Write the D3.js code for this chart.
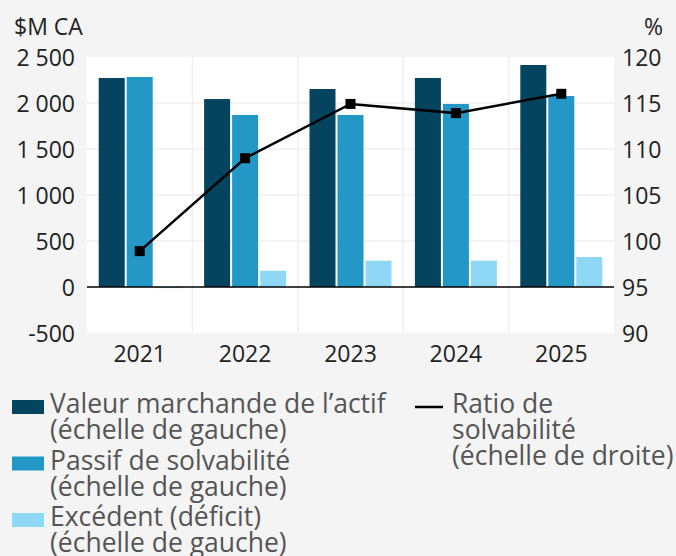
<!DOCTYPE html>
<html>
<head>
<meta charset="utf-8">
<script src="https://cdn.jsdelivr.net/npm/d3@7"></script>
<style>
  body { margin: 0; background: #f4f4f4; }
  svg { display: block; font-family: "Open Sans", sans-serif; }
</style>
</head>
<body>
<svg id="chart" width="676" height="556"></svg>
<script>
// data
const years = ["2021", "2022", "2023", "2024", "2025"];
const actif = [2272, 2043, 2152, 2272, 2413];
const passif = [2283, 1870, 1870, 1989, 2076];
const excedent = [-12, 177, 286, 286, 326];
const ratio = [98.9, 109.0, 114.9, 113.9, 116.0];
const leftTicks = [-500, 0, 500, 1000, 1500, 2000, 2500];
const rightTicks = [90, 95, 100, 105, 110, 115, 120];

const colors = ["#05445e", "#2398c6", "#8fd8f5"];
const series = [actif, passif, excedent];

const svg = d3.select("#chart");
const m = { left: 87, right: 614, top: 57, bottom: 333 };

const x = d3.scaleBand().domain(years).range([m.left, m.right]);
const yL = d3.scaleLinear().domain([-500, 2500]).range([m.bottom, m.top]);
const yR = d3.scaleLinear().domain([90, 120]).range([m.bottom, m.top]);

// plot background
svg.append("rect")
  .attr("x", m.left).attr("y", m.top)
  .attr("width", m.right - m.left).attr("height", m.bottom - m.top)
  .attr("fill", "#fff");

// grid
svg.append("g").selectAll("line").data([500, 1000, 1500, 2000])
  .join("line")
  .attr("x1", m.left).attr("x2", m.right)
  .attr("y1", d => yL(d)).attr("y2", d => yL(d))
  .attr("stroke", "#efefef").attr("stroke-width", 1.5);

svg.append("g").selectAll("line").data(years.slice(1))
  .join("line")
  .attr("x1", d => x(d)).attr("x2", d => x(d))
  .attr("y1", m.top).attr("y2", m.bottom)
  .attr("stroke", "#efefef").attr("stroke-width", 1.5);

// bars
const bw = 26, gap = 2;
const groupW = 3 * bw + 2 * gap;
series.forEach((s, i) => {
  svg.append("g").selectAll("rect").data(s)
    .join("rect")
    .attr("x", (d, j) => x(years[j]) + (x.bandwidth() - groupW) / 2 + i * (bw + gap))
    .attr("y", d => yL(Math.max(0, d)))
    .attr("width", bw)
    .attr("height", d => Math.abs(yL(d) - yL(0)))
    .attr("fill", colors[i]);
});

// zero line
svg.append("line")
  .attr("x1", m.left).attr("x2", m.right)
  .attr("y1", yL(0)).attr("y2", yL(0))
  .attr("stroke", "#000").attr("stroke-width", 1.5);

// ratio line
const cx = d => x(d) + x.bandwidth() / 2;
svg.append("path")
  .datum(ratio)
  .attr("fill", "none").attr("stroke", "#000").attr("stroke-width", 2.5)
  .attr("d", d3.line().x((d, i) => cx(years[i])).y(d => yR(d)));

svg.append("g").selectAll("rect").data(ratio)
  .join("rect")
  .attr("x", (d, i) => cx(years[i]) - 5)
  .attr("y", d => yR(d) - 5)
  .attr("width", 10).attr("height", 10)
  .attr("fill", "#000");

// axes
const fmt = d => (d < 0 ? "-" : "") + d3.format(",")(Math.abs(d)).replace(/,/g, " ");
const axL = svg.append("g")
  .attr("transform", `translate(${m.left},0)`)
  .call(d3.axisLeft(yL).tickValues(leftTicks).tickSize(0).tickPadding(12).tickFormat(fmt));
axL.select(".domain").remove();
axL.selectAll("text").attr("font-size", 23).attr("fill", "#222")
  .attr("font-family", "Open Sans").attr("dy", "0.35em");

const axR = svg.append("g")
  .attr("transform", `translate(${m.right},0)`)
  .call(d3.axisRight(yR).tickValues(rightTicks).tickSize(0).tickPadding(8));
axR.select(".domain").remove();
axR.selectAll("text").attr("font-size", 23).attr("fill", "#222")
  .attr("font-family", "Open Sans").attr("dy", "0.35em");

const axB = svg.append("g")
  .attr("transform", `translate(0,${m.bottom})`)
  .call(d3.axisBottom(x).tickSize(0).tickPadding(8));
axB.select(".domain").remove();
axB.selectAll("text").attr("font-size", 23).attr("fill", "#222")
  .attr("font-family", "Open Sans").attr("dy", "0.9em");

// axis titles
svg.append("text").attr("x", 14).attr("y", 35).attr("font-size", 23).attr("fill", "#222").text("$M CA");
svg.append("text").attr("x", 663).attr("y", 35).attr("text-anchor", "end")
  .attr("font-size", 23).attr("fill", "#222").text("%");

// legend
const legendItems = [
  { lines: ["Valeur marchande de l’actif", "(échelle de gauche)"], color: colors[0], y: 413 },
  { lines: ["Passif de solvabilité", "(échelle de gauche)"], color: colors[1], y: 469.5 },
  { lines: ["Excédent (déficit)", "(échelle de gauche)"], color: colors[2], y: 526 }
];
const lg = svg.append("g").attr("font-size", 26.5).attr("fill", "#555");
legendItems.forEach(it => {
  lg.append("rect").attr("x", 12).attr("y", it.y - 13).attr("width", 32).attr("height", 14).attr("fill", it.color);
  const t = lg.append("text").attr("x", 50).attr("y", it.y);
  it.lines.forEach((s, k) => {
    t.append("tspan").attr("x", 50).attr("dy", k === 0 ? 0 : 26).text(s);
  });
});
lg.append("line").attr("x1", 415).attr("x2", 443).attr("y1", 407).attr("y2", 407)
  .attr("stroke", "#000").attr("stroke-width", 2.5);
const rt = lg.append("text").attr("x", 452).attr("y", 413);
["Ratio de", "solvabilité", "(échelle de droite)"].forEach((s, k) => {
  rt.append("tspan").attr("x", 452).attr("dy", k === 0 ? 0 : 26).text(s);
});
</script>
</body>
</html>
